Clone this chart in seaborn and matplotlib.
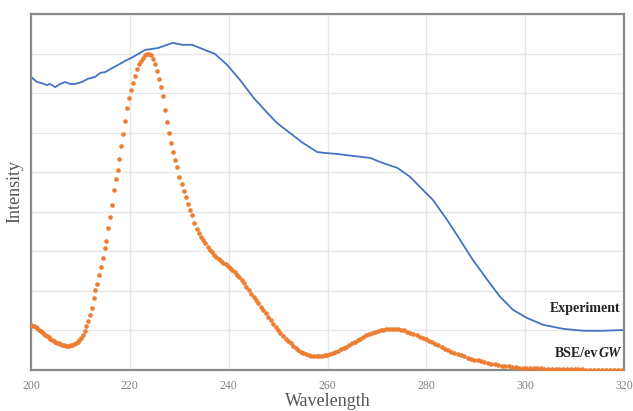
import numpy as np
import pandas as pd
import seaborn as sns
import matplotlib
matplotlib.use("Agg")
import matplotlib.pyplot as plt

# measured spectrum (wavelength in nm, intensity in arbitrary units)
exp_wl = [200.0, 201.2, 202.2, 203.2, 203.8, 204.9, 205.9, 206.9, 207.9, 208.9,
          210.3, 211.5, 213.0, 214.0, 215.0, 216.4, 217.6, 219.0, 220.6, 223.1,
          225.7, 228.7, 230.6, 232.6, 235.2, 237.2, 239.7, 242.3, 244.9, 247.8,
          249.8, 252.4, 255.0, 257.9, 259.1, 261.9, 265.2, 268.6, 271.2, 274.1,
          276.7, 279.3, 281.3, 284.2, 286.8, 289.4, 292.3, 294.9, 297.5, 300.4,
          303.6, 307.6, 311.7, 315.7, 320.0]
exp_int = [7.41, 7.28, 7.25, 7.20, 7.23, 7.15, 7.23, 7.28, 7.23, 7.23,
           7.28, 7.36, 7.41, 7.51, 7.53, 7.63, 7.71, 7.81, 7.91, 8.09,
           8.14, 8.27, 8.22, 8.22, 8.09, 7.99, 7.71, 7.33, 6.90, 6.50,
           6.24, 5.99, 5.74, 5.51, 5.49, 5.46, 5.41, 5.36, 5.23, 5.11,
           4.88, 4.55, 4.30, 3.79, 3.29, 2.78, 2.28, 1.85, 1.52, 1.31,
           1.14, 1.04, 0.99, 0.99, 1.01]

# BSE/evGW spectrum, sampled every 0.01 eV from 6.20 eV down to 3.88 eV
bse_ev_start, bse_ev_step = 6.20, 0.01
bse_int = [1.14, 1.12, 1.10, 1.08, 1.05, 1.02, 0.99, 0.96, 0.92, 0.88,
           0.85, 0.82, 0.79, 0.76, 0.73, 0.71, 0.69, 0.67, 0.65, 0.63,
           0.62, 0.61, 0.61, 0.61, 0.62, 0.63, 0.65, 0.67, 0.70, 0.75,
           0.80, 0.88, 0.99, 1.11, 1.24, 1.40, 1.57, 1.83, 2.02, 2.17,
           2.40, 2.61, 2.83, 3.07, 3.25, 3.59, 3.87, 4.17, 4.55, 4.82,
           5.06, 5.34, 5.65, 5.97, 6.30, 6.62, 6.88, 7.08, 7.25, 7.43,
           7.60, 7.73, 7.81, 7.89, 7.95, 7.99, 7.99, 7.95, 7.87, 7.74,
           7.55, 7.35, 7.15, 6.92, 6.58, 6.28, 6.00, 5.74, 5.52, 5.32,
           5.14, 4.88, 4.70, 4.52, 4.38, 4.20, 4.05, 3.91, 3.72, 3.57,
           3.46, 3.37, 3.29, 3.20, 3.12, 3.04, 2.97, 2.91, 2.85, 2.80,
           2.76, 2.71, 2.67, 2.63, 2.58, 2.53, 2.47, 2.40, 2.34, 2.27,
           2.19, 2.10, 2.01, 1.93, 1.85, 1.76, 1.68, 1.60, 1.51, 1.43,
           1.34, 1.25, 1.17, 1.09, 1.01, 0.93, 0.86, 0.79, 0.73, 0.67,
           0.61, 0.55, 0.50, 0.46, 0.43, 0.40, 0.38, 0.36, 0.35, 0.35,
           0.35, 0.36, 0.37, 0.38, 0.40, 0.43, 0.46, 0.49, 0.52, 0.56,
           0.59, 0.63, 0.67, 0.71, 0.75, 0.79, 0.83, 0.87, 0.90, 0.93,
           0.96, 0.98, 1.00, 1.02, 1.03, 1.04, 1.04, 1.04, 1.03, 1.02,
           1.00, 0.97, 0.94, 0.91, 0.87, 0.83, 0.80, 0.77, 0.74, 0.70,
           0.66, 0.62, 0.58, 0.54, 0.50, 0.46, 0.43, 0.40, 0.37, 0.34,
           0.31, 0.28, 0.26, 0.24, 0.22, 0.20, 0.18, 0.16, 0.14, 0.12,
           0.11, 0.10, 0.09, 0.08, 0.07, 0.06, 0.06, 0.05, 0.05, 0.04,
           0.04, 0.04, 0.03, 0.03, 0.03, 0.03, 0.02, 0.02, 0.02, 0.02,
           0.02, 0.02, 0.02, 0.01, 0.01, 0.01, 0.01, 0.01, 0.01, 0.01,
           0.01, 0.01, 0.01]

x_ticks = [200, 220, 240, 260, 280, 300, 320]

bse_ev = bse_ev_start - bse_ev_step * np.arange(len(bse_int))
exp_df = pd.DataFrame({"wl": exp_wl, "val": exp_int})
bse_df = pd.DataFrame({"wl": 1239.84 / bse_ev, "val": bse_int})

sns.set_style("white")
plt.rcParams["font.family"] = ["Liberation Serif", "DejaVu Serif"]

fig = plt.figure(figsize=(6.33, 4.11), dpi=100)
ax = fig.add_axes([0.049, 0.10, 0.937, 0.866])

sns.lineplot(data=exp_df, x="wl", y="val", ax=ax, color="#4472C4", linewidth=1.3)
sns.scatterplot(data=bse_df, x="wl", y="val", ax=ax, color="#ED7D31", s=11,
                linewidth=0, zorder=3)

ax.set_xlim(200, 320)
ax.set_ylim(0, 9)
ax.set_xticks(x_ticks)
ax.set_yticks(np.arange(0, 10))
ax.set_yticklabels([])
ax.grid(True, color="#e6e6e6", linewidth=1.0)
ax.set_axisbelow(True)
ax.tick_params(axis="x", length=0, pad=7, labelsize=8.5, labelcolor="#808080")
ax.tick_params(axis="y", length=0)
for sp in ax.spines.values():
    sp.set_color("#8a8a8a")
    sp.set_linewidth(1.6)

ax.set_xlabel("Wavelength", fontsize=13, color="#555555", labelpad=1)
ax.set_ylabel("Intensity", fontsize=13, color="#555555", labelpad=2)

ax.text(319.3, 1.55, "Experiment", ha="right", va="center", fontsize=10,
        fontweight="bold", color="#222222")
gw = ax.text(319.3, 0.42, "GW", ha="right", va="center", fontsize=10,
             fontweight="bold", style="italic", color="#222222")
ax.annotate("BSE/ev", xy=(0, 0), xycoords=gw, ha="right", va="bottom",
            fontsize=10, fontweight="bold", color="#222222")

fig.savefig("out.png", dpi=100)
